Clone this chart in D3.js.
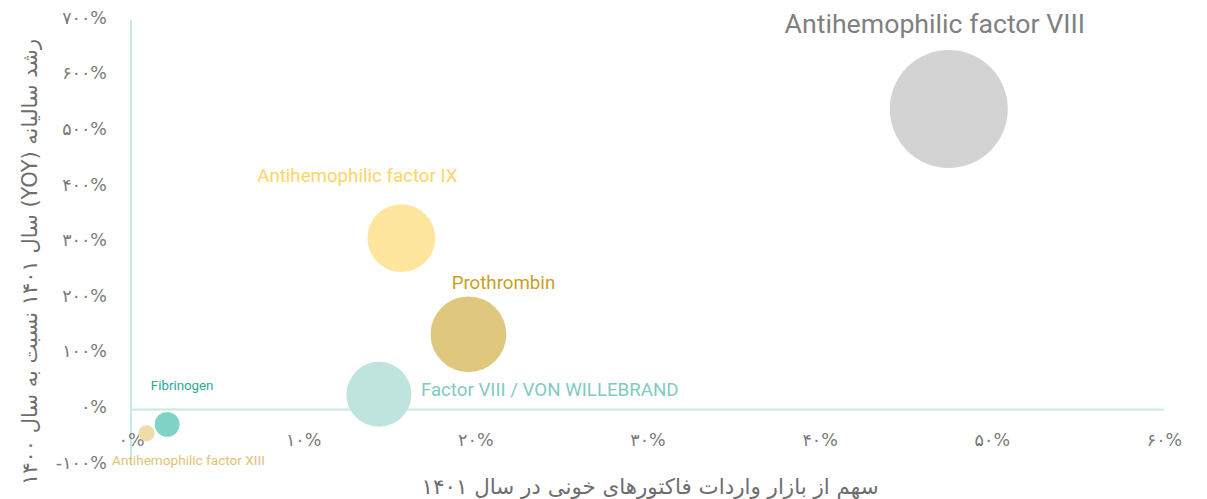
<!DOCTYPE html>
<html>
<head>
<meta charset="utf-8">
<script src="https://cdn.jsdelivr.net/npm/d3@7"></script>
<style>
  html, body { margin: 0; padding: 0; background: #fff; }
  svg { display: block; }
</style>
</head>
<body>
<svg id="chart" width="1207" height="499"></svg>
<script>
// ---- data ----
const categories = ["Antihemophilic factor VIII", "Antihemophilic factor IX", "Prothrombin",
                    "Factor VIII / VON WILLEBRAND", "Fibrinogen", "Antihemophilic factor XIII"];
const marketShare = [0.475, 0.157, 0.196, 0.144, 0.021, 0.009];   // x
const yoyGrowth   = [5.40, 3.08, 1.35, 0.27, -0.27, -0.43];      // y
const bubbleSize  = [0.475, 0.157, 0.196, 0.144, 0.021, 0.009];   // size
const xTickValues = [0, 0.1, 0.2, 0.3, 0.4, 0.5, 0.6];
const xTickLabels = ["۰%", "۱۰%", "۲۰%", "۳۰%", "۴۰%", "۵۰%", "۶۰%"];
const yTickValues = [-1, 0, 1, 2, 3, 4, 5, 6, 7];
const yTickLabels = ["-۱۰۰%", "۰%", "۱۰۰%", "۲۰۰%", "۳۰۰%", "۴۰۰%", "۵۰۰%", "۶۰۰%", "۷۰۰%"];
const xTitle = "سهم از بازار واردات فاکتورهای خونی در سال ۱۴۰۱";
const yTitle = "رشد سالیانه (YOY) سال ۱۴۰۱ نسبت به سال ۱۴۰۰";

// ---- styles ----
const fills  = ["#d3d3d3", "#fee69f", "#e0c77e", "#bfe3dd", "#80d3c7", "#eedcab"];
const labelColors = ["#808080", "#fdd466", "#c9a01f", "#80cbbf", "#27a898", "#e2c274"];
const labelSizes = [26.7, 18.7, 18.7, 18.7, 13.3, 13.6];
// label anchor offsets relative to bubble centre [dx, dy, anchor]
const labelOffsets = [[-14, -85, "middle"], [-44, -63, "middle"], [35, -52, "middle"],
                      [42, -5, "start"], [15, -39, "middle"], [42, 27, "middle"]];

const svg = d3.select("#chart");
const x = d3.scaleLinear().domain([0, 0.6]).range([131, 1164]);
const y = d3.scaleLinear().domain([-1, 7]).range([465, 20]);
const r = d3.scaleSqrt().domain([0, 0.475]).range([0, 59]);

const persianFont = "'DejaVu Sans', sans-serif";
const tickColor = "#7a7a7a";
const lineColor = "#c6e9e1";

// axes lines
svg.append("line").attr("x1", x(0)).attr("x2", x(0)).attr("y1", y(7)).attr("y2", y(-1))
  .attr("stroke", lineColor).attr("stroke-width", 2);
svg.append("line").attr("x1", x(0)).attr("x2", x(0.6)).attr("y1", y(0)).attr("y2", y(0))
  .attr("stroke", lineColor).attr("stroke-width", 2);

// y axis labels
const yAxis = d3.axisLeft(y).tickValues(yTickValues).tickSize(0).tickPadding(0)
  .tickFormat((d, i) => yTickLabels[i]);
const gy = svg.append("g").attr("transform", "translate(107,-3)").call(yAxis);
gy.select(".domain").remove();
gy.selectAll("text").attr("font-family", persianFont).attr("font-size", 17.5)
  .attr("fill", tickColor).attr("dy", "0.35em");

// x axis labels
const xAxis = d3.axisBottom(x).tickValues(xTickValues).tickSize(0).tickPadding(0)
  .tickFormat((d, i) => xTickLabels[i]);
const gx = svg.append("g").attr("transform", "translate(0,440)").call(xAxis);
gx.select(".domain").remove();
gx.selectAll("text").attr("font-family", persianFont).attr("font-size", 17.5)
  .attr("fill", tickColor).attr("dy", "0.35em");

// bubbles
const data = categories.map((c, i) => ({c, x: marketShare[i], y: yoyGrowth[i], s: bubbleSize[i], i}));
svg.append("g").selectAll("circle").data(data).join("circle")
  .attr("cx", d => x(d.x)).attr("cy", d => y(d.y)).attr("r", d => r(d.s))
  .attr("fill", d => fills[d.i]);

// bubble labels
svg.append("g").selectAll("text").data(data).join("text")
  .attr("x", d => x(d.x) + labelOffsets[d.i][0])
  .attr("y", d => y(d.y) + labelOffsets[d.i][1])
  .attr("dy", "0.35em")
  .attr("text-anchor", d => labelOffsets[d.i][2])
  .attr("font-family", "Roboto, sans-serif")
  .attr("font-size", d => labelSizes[d.i])
  .attr("fill", d => labelColors[d.i])
  .text(d => d.c);

// axis titles
svg.append("text").attr("x", 650).attr("y", 487).attr("dy", "0.35em")
  .attr("direction", "rtl").style("unicode-bidi", "embed")
  .attr("text-anchor", "middle").attr("font-family", persianFont).attr("font-size", 21.4)
  .attr("fill", "#6e6e6e").text(xTitle);
svg.append("text").attr("transform", "translate(30,262) rotate(-90)").attr("dy", "0.35em")
  .attr("direction", "rtl").style("unicode-bidi", "embed")
  .attr("text-anchor", "middle").attr("font-family", persianFont).attr("font-size", 21)
  .attr("fill", "#6e6e6e").text(yTitle);
</script>
</body>
</html>
